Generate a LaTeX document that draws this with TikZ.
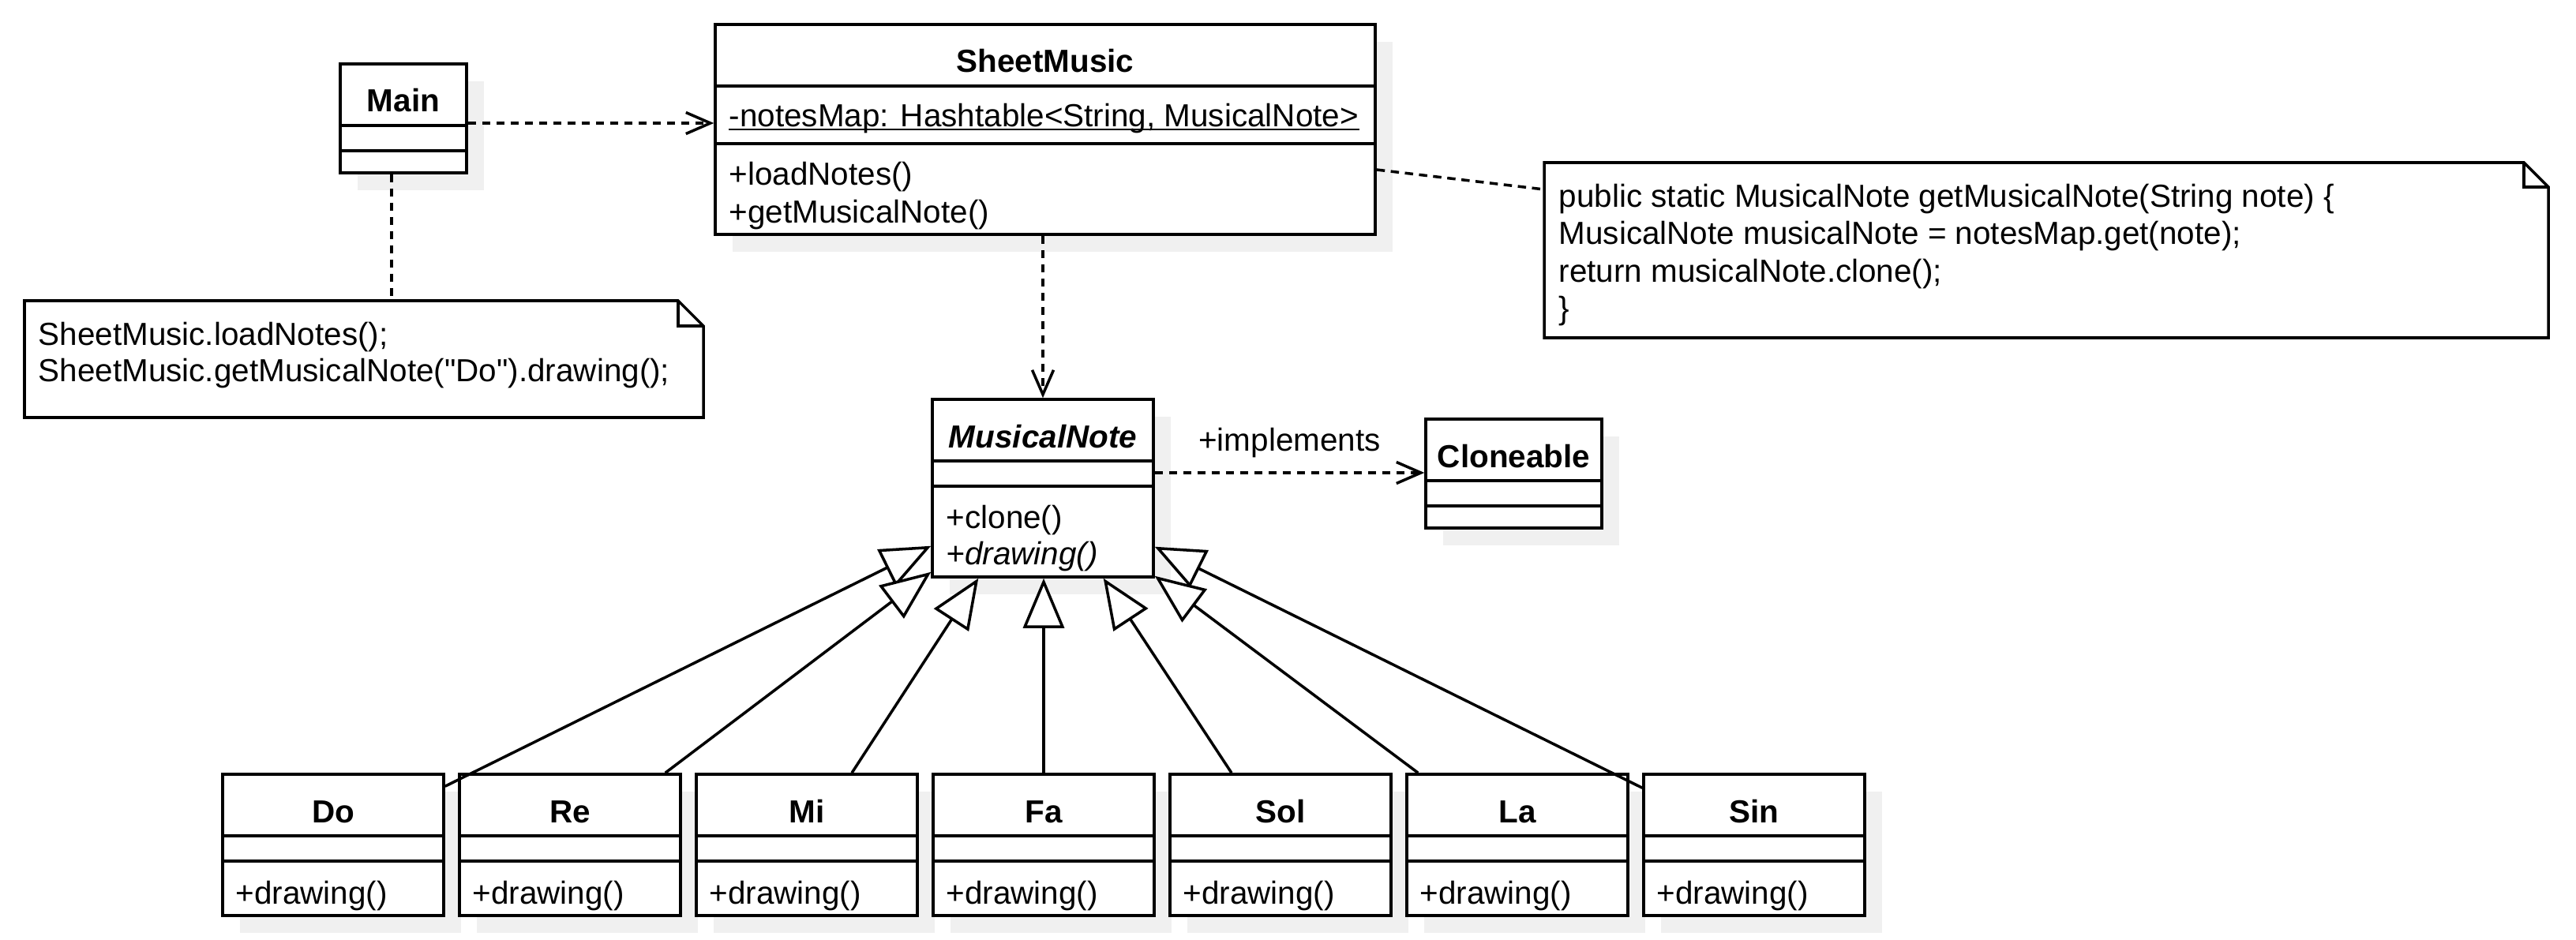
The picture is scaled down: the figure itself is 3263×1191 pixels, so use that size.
\documentclass[tikz,border=0pt]{standalone}
\usepackage{fontspec}
\setmainfont{Liberation Sans}[Ligatures=TeXOff]
\usetikzlibrary{arrows.meta,fit}
\tikzset{
  shadowc/.style={fill=black!6},
  classbox/.style={draw, line width=1pt, fill=white, inner sep=0pt},
  boxline/.style={line width=1pt},
  titletext/.style={font=\bfseries, inner sep=0pt, anchor=base},
  memtext/.style={inner sep=0pt, anchor=base west},
  dep/.style={line width=1pt, dash pattern=on 0.105cm off 0.075cm, -{Straight Barb[length=0.31cm,width=0.27cm]}},
  notelink/.style={line width=1pt, dash pattern=on 0.105cm off 0.075cm},
  gen/.style={line width=1pt, -{Triangle[length=0.63cm,width=0.52cm,fill=white]}},
  noteshape/.style={draw, line width=1pt, fill=white, line join=miter},
}
% name, x1, y1, x2, y2, divider1, divider2
\newcommand\umlclass[7]{%
  \fill[shadowc] ({#2+22},{#3+22}) rectangle ({#4+22},{#5+22});
  \coordinate (#1-a) at (#2,#3);
  \coordinate (#1-b) at (#4,#5);
  \node[classbox, fit=(#1-a)(#1-b)] (#1) {};
  \draw[boxline] (#2,#6) -- (#4,#6);
  \draw[boxline] (#2,#7) -- (#4,#7);
}
\begin{document}
\fontsize{11.5pt}{13.4pt}\selectfont
\begin{tikzpicture}[x=0.01cm,y=-0.01cm]
\useasboundingbox (0,0) rectangle (3263,1191);

% ---------- Main ----------
\umlclass{main}{431}{81}{591}{219}{159}{191}
\node[titletext] (main-t) at (511,142) {Main};

% ---------- SheetMusic ----------
\umlclass{sheet}{906}{31}{1742}{297}{109}{182}
\node[titletext] (sheet-t) at (1324,92) {SheetMusic};
\node[memtext] (sheet-attr) at (923,161) {-notesMap: Hashtable<String, MusicalNote>};
\draw[line width=0.7pt] ([yshift=-0.03cm]sheet-attr.base west) -- ([yshift=-0.03cm]sheet-attr.base east);
\node[memtext] (sheet-m1) at (923,235) {+loadNotes()};
\node[memtext] (sheet-m2) at (923,283) {+getMusicalNote()};

% ---------- MusicalNote ----------
\umlclass{mn}{1181}{506}{1461}{731}{584}{616}
\node[titletext, font=\bfseries\itshape] (mn-t) at (1321,567) {MusicalNote};
\node[memtext] (mn-m1) at (1198,669) {+clone()};
\node[memtext, font=\itshape] (mn-m2) at (1198,715) {+drawing()};

% ---------- Cloneable ----------
\umlclass{cloneable}{1806}{531}{2029}{669}{609}{641}
\node[titletext] (cloneable-t) at (1917.5,592) {Cloneable};

% ---------- concrete notes ----------
\umlclass{cdo}{282}{981}{562}{1160}{1059}{1091}
\node[titletext] (cdo-t) at (422,1042) {Do};
\node[memtext] (cdo-m) at (298,1145) {+drawing()};

\umlclass{cre}{582}{981}{862}{1160}{1059}{1091}
\node[titletext] (cre-t) at (722,1042) {Re};
\node[memtext] (cre-m) at (598,1145) {+drawing()};

\umlclass{cmi}{882}{981}{1162}{1160}{1059}{1091}
\node[titletext] (cmi-t) at (1022,1042) {Mi};
\node[memtext] (cmi-m) at (898,1145) {+drawing()};

\umlclass{cfa}{1182}{981}{1462}{1160}{1059}{1091}
\node[titletext] (cfa-t) at (1322,1042) {Fa};
\node[memtext] (cfa-m) at (1198,1145) {+drawing()};

\umlclass{csol}{1482}{981}{1762}{1160}{1059}{1091}
\node[titletext] (csol-t) at (1622,1042) {Sol};
\node[memtext] (csol-m) at (1498,1145) {+drawing()};

\umlclass{cla}{1782}{981}{2062}{1160}{1059}{1091}
\node[titletext] (cla-t) at (1922,1042) {La};
\node[memtext] (cla-m) at (1798,1145) {+drawing()};

\umlclass{csin}{2082}{981}{2362}{1160}{1059}{1091}
\node[titletext] (csin-t) at (2222,1042) {Sin};
\node[memtext] (csin-m) at (2098,1145) {+drawing()};

% ---------- notes ----------
\draw[noteshape] (31,381) -- (859,381) -- (891,413) -- (891,529) -- (31,529) -- cycle;
\draw[line width=1pt, line join=miter] (859,381) -- (859,413) -- (891,413);
\coordinate (note1-a) at (31,381);
\coordinate (note1-b) at (891,529);
\node[fit=(note1-a)(note1-b), inner sep=0pt] (note1) {};
\node[memtext] (note1-l1) at (48,437) {SheetMusic.loadNotes();};
\node[memtext] (note1-l2) at (48,483) {SheetMusic.getMusicalNote("Do").drawing();};

\draw[noteshape] (1956,206) -- (3197,206) -- (3228,237) -- (3228,428) -- (1956,428) -- cycle;
\draw[line width=1pt, line join=miter] (3197,206) -- (3197,237) -- (3228,237);
\coordinate (note2-a) at (1956,206);
\coordinate (note2-b) at (3228,428);
\node[fit=(note2-a)(note2-b), inner sep=0pt] (note2) {};
\node[memtext] (note2-l1) at (1974,262) {public static MusicalNote getMusicalNote(String note) \{};
\node[memtext] (note2-l2) at (1974,309.5) {MusicalNote musicalNote = notesMap.get(note);};
\node[memtext] (note2-l3) at (1974,357) {return musicalNote.clone();};
\node[memtext] (note2-l4) at (1974,404.5) {\}};

% ---------- connectors ----------
\coordinate (m1) at ([yshift=-0.06cm]main.east);
\draw[dep] (m1) -- (m1 -| sheet.west);

\coordinate (n1) at ([xshift=-0.15cm]main.south);
\draw[notelink] (n1) -- (n1 |- note1.north);

\draw[notelink] ([yshift=-0.51cm]sheet.east) -- ([yshift=0.77cm]note2.west);

\draw[dep] (mn.north |- sheet.south) -- (mn.north);

\coordinate (c1) at ([yshift=0.195cm]mn.east);
\draw[dep] (c1) -- (c1 -| cloneable.west)
  node[pos=0.5, anchor=base, inner sep=0pt, yshift=0.27cm] (impl) {+implements};

\draw[gen] ([yshift=-0.17cm]cdo.north east) -- ([yshift=0.41cm]mn.south west);
\draw[gen] ([xshift=-0.21cm]cre.north east) -- ([yshift=0.08cm]mn.south west);
\draw[gen] ([xshift=0.57cm]cmi.north) -- ([xshift=0.60cm]mn.south west);
\draw[gen] (cfa.north) -- (cfa.north |- mn.south);
\draw[gen] ([xshift=-0.62cm]csol.north) -- ([xshift=-0.65cm]mn.south east);
\draw[gen] ([xshift=0.16cm]cla.north west) -- ([yshift=0.03cm]mn.south east);
\draw[gen] ([yshift=-0.19cm]csin.north west) -- ([yshift=0.40cm]mn.south east);
\end{tikzpicture}
\end{document}
